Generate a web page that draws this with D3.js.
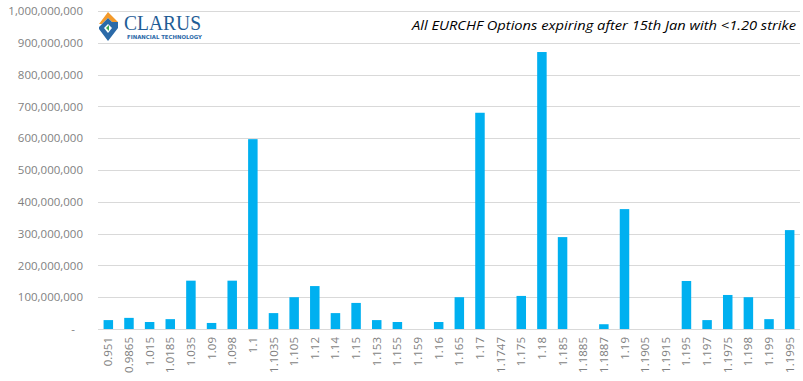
<!DOCTYPE html>
<html><head><meta charset="utf-8">
<script src="https://cdn.jsdelivr.net/npm/d3@7"></script>
<style>body{margin:0;background:#fff}svg{display:block}</style>
</head><body>
<script>
const categories = ["0.951","0.9865","1.015","1.0185","1.035","1.09","1.098","1.1","1.1035","1.105","1.12","1.14","1.15","1.153","1.155","1.159","1.16","1.165","1.17","1.1747","1.175","1.18","1.185","1.1885","1.1887","1.19","1.1905","1.1915","1.195","1.197","1.1975","1.198","1.199","1.1995"];
const values = [28e6,35e6,22e6,31e6,152e6,19e6,152e6,597e6,50e6,100e6,135e6,50e6,82e6,28e6,22e6,0,22e6,100e6,680e6,0,104e6,871e6,289e6,0,15e6,377e6,0,0,151e6,28e6,107e6,100e6,31e6,311e6];
const yTicks = [0,100e6,200e6,300e6,400e6,500e6,600e6,700e6,800e6,900e6,1000e6];
const title = "All EURCHF Options expiring after 15th Jan with <1.20 strike";

const W=803,H=381;
const m={left:98,right:3,top:11,bottom:52};
const svg=d3.select("body").append("svg").attr("width",W).attr("height",H);
const x=d3.scaleBand().domain(categories).range([m.left,W-m.right]).paddingInner(0.54).paddingOuter(0.27);
const y=d3.scaleLinear().domain([0,1e9]).range([H-m.bottom,m.top]);
const font="'Open Sans', Lato, sans-serif";

// gridlines
svg.append("g").selectAll("line").data(yTicks.slice(1)).join("line")
  .attr("x1",m.left).attr("x2",W-m.right).attr("y1",d=>Math.round(y(d))+0.5).attr("y2",d=>Math.round(y(d))+0.5)
  .attr("stroke","#d9d9d9").attr("stroke-width",1);

// y axis
const fmt=d3.format(",");
const yAx=svg.append("g").attr("transform",`translate(${m.left},0)`)
  .call(d3.axisLeft(y).tickValues(yTicks).tickSize(0).tickPadding(15).tickFormat(d=>d===0?"-":fmt(d)));
yAx.select(".domain").remove();
yAx.selectAll("text").attr("fill","#7f7f7f").style("font-family",font).style("font-size","11.5px");
yAx.selectAll(".tick").filter(d=>d===0).select("text").attr("dx",-8);

// bars
svg.append("g").selectAll("rect").data(categories).join("rect")
  .attr("x",d=>x(d)).attr("width",x.bandwidth())
  .attr("y",(d,i)=>y(values[i])).attr("height",(d,i)=>y(0)-y(values[i]))
  .attr("fill","#00b0f0");

// baseline
svg.append("line").attr("x1",m.left).attr("x2",W-m.right).attr("y1",Math.round(y(0))+0.5).attr("y2",Math.round(y(0))+0.5)
  .attr("stroke","#d9d9d9");

// x axis
const xAx=svg.append("g").attr("transform",`translate(0,${y(0)})`).call(d3.axisBottom(x).tickSize(0).tickPadding(0));
xAx.select(".domain").remove();
xAx.selectAll("text").attr("fill","#7f7f7f").style("font-family",font).style("font-size","11.5px")
  .attr("text-anchor","end").attr("transform","rotate(-90)").attr("x",-8).attr("y",0).attr("dy","0.35em");

// title
svg.append("text").attr("x",796).attr("y",30).attr("text-anchor","end")
  .style("font-family",font).style("font-style","italic").style("font-size","12.5px").attr("fill","#000")
  .attr("textLength",384).attr("lengthAdjust","spacingAndGlyphs").text(title);

// logo
const lg=svg.append("g");
lg.append("path").attr("d","M108,12 L118,22 L112,22 L108,18 L102,24 L99,24 Z").attr("fill","#f39a2b");
lg.append("path").attr("d","M99,27 L108,18 L112,22 L118,22 L118,28 L108,41 L99,29 Z").attr("fill","#2b6aa8");
lg.append("path").attr("d","M104,28 L108,24 L112,28 L108,33 Z").attr("fill","#fff");
lg.append("path").attr("d","M106,28 L109,25 L109,31 Z").attr("fill","#3aa850");
lg.append("text").attr("x",124).attr("y",30).style("font-family","'Liberation Serif', serif").style("font-size","22px")
  .attr("fill","#1f5d96").attr("textLength",77).attr("lengthAdjust","spacingAndGlyphs").text("CLARUS");
lg.append("text").attr("x",127).attr("y",38.5).style("font-family","'DejaVu Sans', sans-serif").style("font-size","5.5px").style("font-weight","bold")
  .attr("fill","#2b6aa8").attr("textLength",75).attr("lengthAdjust","spacingAndGlyphs").text("FINANCIAL TECHNOLOGY");
</script>
</body></html>
